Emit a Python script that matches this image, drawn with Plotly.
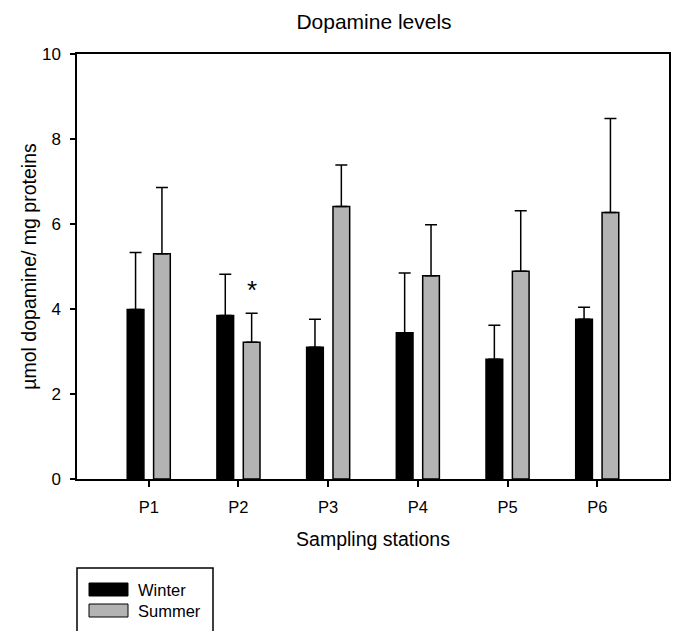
import plotly.graph_objects as go

stations = ["P1", "P2", "P3", "P4", "P5", "P6"]
winter = [3.99, 3.85, 3.10, 3.44, 2.82, 3.76]
winter_err = [1.34, 0.97, 0.66, 1.41, 0.80, 0.28]
summer = [5.30, 3.22, 6.41, 4.78, 4.89, 6.27]
summer_err = [1.56, 0.68, 0.98, 1.20, 1.42, 2.21]
y_ticks = [0, 2, 4, 6, 8, 10]

FONT = "Liberation Sans, Arial, sans-serif"

fig = go.Figure()
fig.add_trace(go.Bar(
    x=stations, y=winter, name="Winter",
    marker=dict(color="black", line=dict(color="black", width=1.5)),
    error_y=dict(type="data", array=winter_err, symmetric=False,
                 arrayminus=[0] * len(winter_err),
                 color="black", thickness=1.5, width=6),
    showlegend=False,
))
fig.add_trace(go.Bar(
    x=stations, y=summer, name="Summer",
    marker=dict(color="#b3b3b3", line=dict(color="black", width=1.5)),
    error_y=dict(type="data", array=summer_err, symmetric=False,
                 arrayminus=[0] * len(summer_err),
                 color="black", thickness=1.5, width=6),
    showlegend=False,
))

# significance mark
fig.add_annotation(x=1.147, y=4.45, xref="x", yref="y", text="*",
                   showarrow=False, font=dict(size=26, color="black", family=FONT))

# manual legend
W = 592.0
H = 425.0
def px(xp):
    return (xp - 77) / W
def py(yp):
    return (479 - yp) / H

fig.add_shape(type="rect", xref="paper", yref="paper",
              x0=px(77), x1=px(213), y0=py(568), y1=py(660),
              line=dict(color="black", width=1.5), fillcolor="white")
fig.add_shape(type="rect", xref="paper", yref="paper",
              x0=px(89), x1=px(128), y0=py(583), y1=py(596),
              line=dict(color="black", width=1), fillcolor="black")
fig.add_shape(type="rect", xref="paper", yref="paper",
              x0=px(89), x1=px(128), y0=py(604), y1=py(617),
              line=dict(color="black", width=1), fillcolor="#b3b3b3")
fig.add_annotation(xref="paper", yref="paper", x=px(136), y=py(590),
                   xanchor="left", yanchor="middle", text="Winter", showarrow=False,
                   font=dict(size=16.5, color="black", family=FONT))
fig.add_annotation(xref="paper", yref="paper", x=px(136), y=py(611),
                   xanchor="left", yanchor="middle", text="Summer", showarrow=False,
                   font=dict(size=16.5, color="black", family=FONT))

fig.update_layout(
    width=676, height=631,
    margin=dict(l=77, r=7, t=54, b=152, autoexpand=False),
    paper_bgcolor="white", plot_bgcolor="white",
    barmode="group", bargap=0.412, bargroupgap=0.367,
    font=dict(family=FONT, color="black", size=16),
    title=dict(text="Dopamine levels", x=374 / 676, xanchor="center",
               y=1 - 22 / 631, yanchor="middle",
               font=dict(size=21, family=FONT, color="black")),
    xaxis=dict(
        type="category", range=[-0.8, 5.8], automargin=False,
        showline=True, linecolor="black", linewidth=1.5, mirror=True,
        ticks="outside", ticklen=6, tickwidth=1.5, tickcolor="black",
        showgrid=False, zeroline=False, ticklabelstandoff=6,
        tickfont=dict(size=16.5),
        title=dict(text="Sampling stations", font=dict(size=19.5), standoff=18),
    ),
    yaxis=dict(
        range=[0, 10], tickvals=y_ticks, automargin=False,
        showline=True, linecolor="black", linewidth=1.5, mirror=True,
        ticks="outside", ticklen=5, tickwidth=1.5, tickcolor="black",
        showgrid=False, zeroline=False, ticklabelstandoff=6,
        tickfont=dict(size=17),
        title=dict(text="µmol dopamine/ mg proteins", font=dict(size=19.5), standoff=0),
    ),
)

fig.write_html("out.html", config={"displayModeBar": False},
               post_script="document.body.style.margin='0';document.body.style.padding='0';")
